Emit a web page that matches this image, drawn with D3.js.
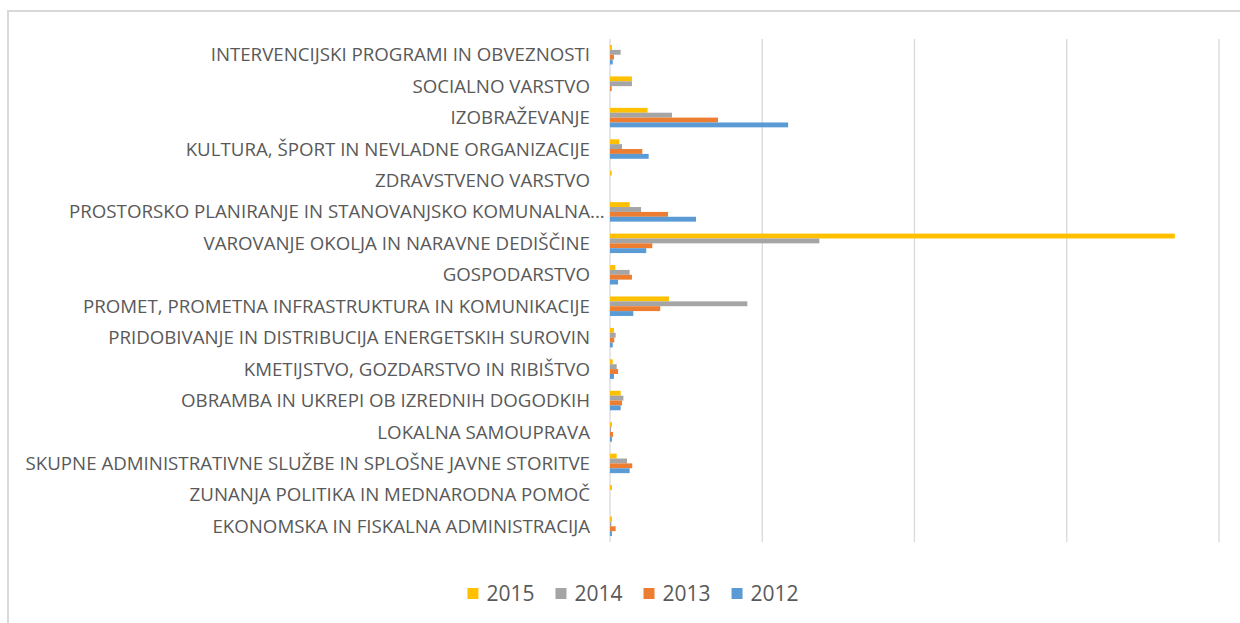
<!DOCTYPE html>
<html>
<head>
<meta charset="utf-8">
<script src="https://cdn.jsdelivr.net/npm/d3@7"></script>
<style>
  body { margin: 0; background: #fff; }
  svg { display: block; }
  text { font-family: "Open Sans", sans-serif; fill: #595959; }
</style>
</head>
<body>
<svg id="chart"></svg>
<script>
// categories, top to bottom
let categories = [
    "INTERVENCIJSKI PROGRAMI IN OBVEZNOSTI",
    "SOCIALNO VARSTVO",
    "IZOBRAŽEVANJE",
    "KULTURA, ŠPORT IN NEVLADNE ORGANIZACIJE",
    "ZDRAVSTVENO VARSTVO",
    "PROSTORSKO PLANIRANJE IN STANOVANJSKO KOMUNALNA",
    "VAROVANJE OKOLJA IN NARAVNE DEDIŠČINE",
    "GOSPODARSTVO",
    "PROMET, PROMETNA INFRASTRUKTURA IN KOMUNIKACIJE",
    "PRIDOBIVANJE IN DISTRIBUCIJA ENERGETSKIH SUROVIN",
    "KMETIJSTVO, GOZDARSTVO IN RIBIŠTVO",
    "OBRAMBA IN UKREPI OB IZREDNIH DOGODKIH",
    "LOKALNA SAMOUPRAVA",
    "SKUPNE ADMINISTRATIVNE SLUŽBE IN SPLOŠNE JAVNE STORITVE",
    "ZUNANJA POLITIKA IN MEDNARODNA POMOČ",
    "EKONOMSKA IN FISKALNA ADMINISTRACIJA"
];
// labels cut off in the original
let truncated = ["PROSTORSKO PLANIRANJE IN STANOVANJSKO KOMUNALNA"];

let years = ["2015", "2014", "2013", "2012"];
let values2015 = [1.3, 14.4, 24.7, 6.1, 1.1, 12.9, 371, 3.5, 38.7, 2.6, 1.8, 7.0, 1.3, 4.4, 1.3, 1.3];
let values2014 = [7.0, 14.4, 40.7, 7.9, 0, 20.4, 137.5, 12.9, 90.2, 3.7, 4.4, 8.8, 0.7, 11.2, 0, 0.9];
let values2013 = [2.6, 1.1, 70.9, 21.2, 0, 38.1, 27.8, 14.4, 33.0, 2.8, 5.3, 7.9, 2.0, 14.6, 0, 3.7];
let values2012 = [1.8, 0, 117, 25.4, 0, 56.5, 23.8, 5.3, 15.3, 1.8, 2.6, 7.0, 1.3, 12.9, 0, 1.3];
let seriesValues = [values2015, values2014, values2013, values2012];
let xTicks = [0, 100, 200, 300, 400];
let colors = ["#FFC000", "#A5A5A5", "#ED7D31", "#5B9BD5"];

let width = 1240;
let height = 623;
let plot = {left: 610, right: 1219, top: 39, bottom: 542};
let labelSize = "18.7px";

let svg = d3.select("#chart")
    .attr("width", width)
    .attr("height", height);

// chart frame, runs off the right and bottom edges
svg.append("rect")
    .attr("x", 8)
    .attr("y", 11)
    .attr("width", 1260)
    .attr("height", 640)
    .attr("fill", "#fff")
    .attr("stroke", "#d9d9d9")
    .attr("stroke-width", 2);

let xScale = d3.scaleLinear()
    .domain([0, 400])
    .range([plot.left, plot.right]);

let yScale = d3.scaleBand()
    .domain(categories)
    .range([plot.top, plot.bottom])
    .paddingInner(0.38)
    .paddingOuter(0.19);

let ySub = d3.scaleBand()
    .domain(years)
    .range([0, yScale.bandwidth()]);

// gridlines
svg.append("g")
    .selectAll("line")
    .data(xTicks)
    .join("line")
    .attr("x1", d => xScale(d))
    .attr("x2", d => xScale(d))
    .attr("y1", plot.top)
    .attr("y2", plot.bottom)
    .attr("stroke", "#d9d9d9")
    .attr("stroke-width", 1.3);

// bars
let rows = categories.map((c, i) => ({
    category: c,
    bars: years.map((y, j) => ({year: y, value: seriesValues[j][i], color: colors[j]}))
}));

let groups = svg.append("g")
    .selectAll("g")
    .data(rows)
    .join("g")
    .attr("transform", d => `translate(0,${yScale(d.category)})`);

groups.selectAll("rect")
    .data(d => d.bars)
    .join("rect")
    .attr("x", xScale(0))
    .attr("y", d => ySub(d.year))
    .attr("width", d => xScale(d.value) - xScale(0))
    .attr("height", ySub.bandwidth())
    .attr("fill", d => d.color);

// category labels
svg.append("g")
    .selectAll("text")
    .data(categories)
    .join("text")
    .attr("x", 590)
    .attr("y", d => yScale(d) + yScale.bandwidth() / 2)
    .attr("dy", "0.35em")
    .attr("text-anchor", "end")
    .style("font-size", labelSize)
    .text(d => d);

svg.append("g")
    .selectAll("text")
    .data(truncated)
    .join("text")
    .attr("x", 590)
    .attr("y", d => yScale(d) + yScale.bandwidth() / 2)
    .attr("dy", "0.35em")
    .style("font-size", labelSize)
    .text("...");

// legend
let legend = svg.append("g");
let items = legend.selectAll("g")
    .data(years)
    .join("g");
items.append("rect")
    .attr("width", 11)
    .attr("height", 11)
    .attr("y", 588)
    .attr("fill", (d, i) => colors[i]);
items.append("text")
    .attr("x", 19)
    .attr("y", 601)
    .style("font-size", "21px")
    .text(d => d);

let offset = 0;
items.each(function() {
    let g = d3.select(this);
    g.attr("transform", `translate(${offset},0)`);
    offset += 19 + g.select("text").node().getComputedTextLength() + 21;
});
let legendWidth = offset - 21;
legend.attr("transform", `translate(${633 - legendWidth / 2},0)`);
</script>
</body>
</html>
